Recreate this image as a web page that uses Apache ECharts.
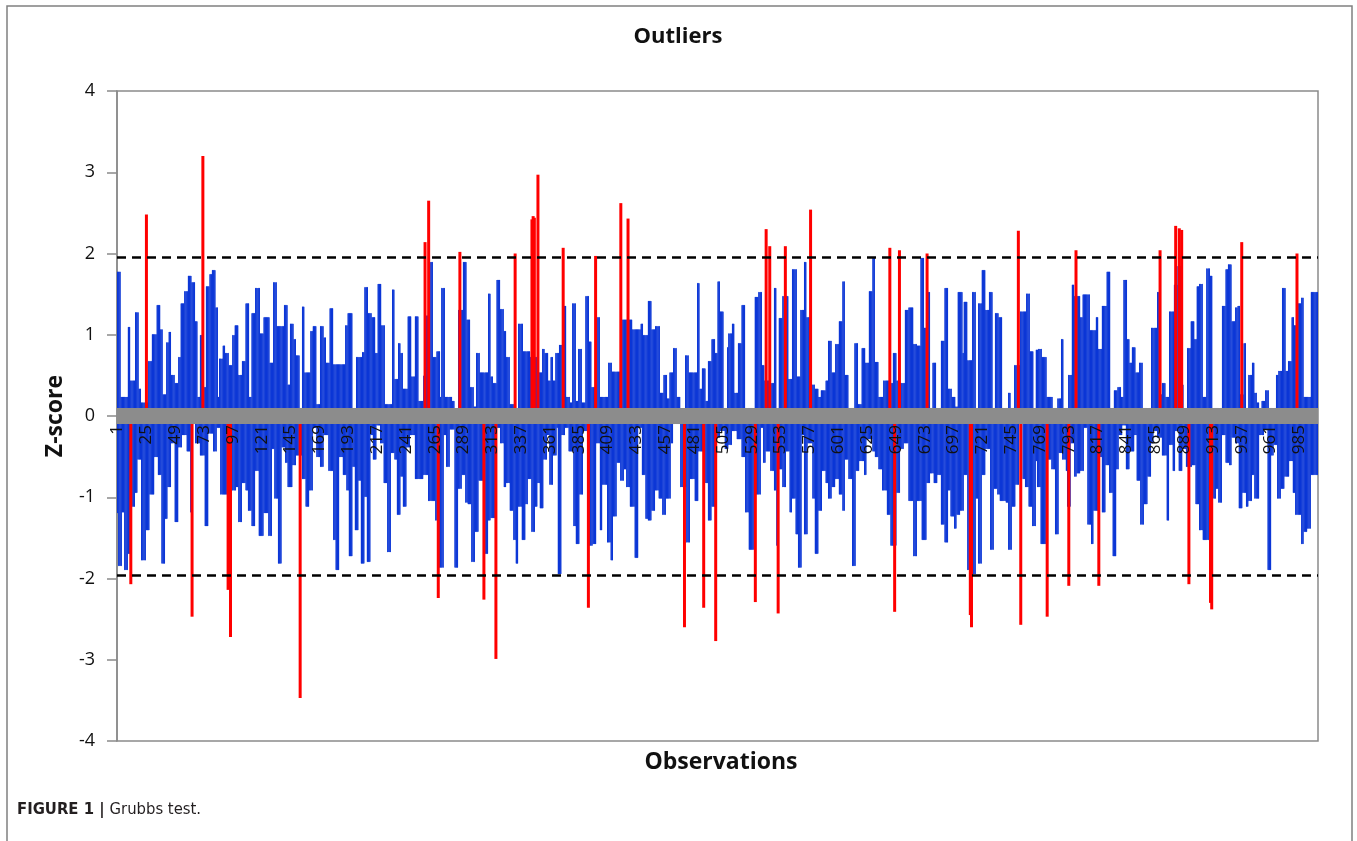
<!DOCTYPE html>
<html>
<head>
<meta charset="utf-8">
<script src="https://cdn.jsdelivr.net/npm/echarts@6/dist/echarts.min.js"></script>
<style>
html,body{margin:0;padding:0;background:#fff;}
#chart{width:1357px;height:841px;}
</style>
</head>
<body>
<div id="chart"></div>
<script>
// ---- data ----
const N_OBS = 1000;
const tickEvery = 24; // x labels 1, 25, 49, ... 985
const yTicks = [-4, -3, -2, -1, 0, 1, 2, 3, 4];
const criticalZ = 1.96;

// Blue bars above zero: [first observation of a step, z-score]
const upperSteps = [[1,1.78],[4,0.24],[10,1.1],[12,0.44],[16,1.28],[19,0.34],[21,0.17],[27,0.68],[30,1.01],[34,1.37],[37,1.07],[39,0.27],[42,0.91],[44,1.04],[46,0.51],[49,0.41],[52,0.73],[54,1.39],[57,1.54],[60,1.73],[63,1.65],[66,1.17],[68,0.24],[70,1.0],[73,0.36],[75,1.6],[78,1.75],[80,1.8],[83,1.34],[85,0.24],[86,0.71],[89,0.87],[91,0.78],[94,0.63],[97,1.0],[99,1.12],[102,0.51],[105,0.68],[108,1.39],[111,0.24],[113,1.27],[116,1.58],[120,1.02],[123,1.22],[128,0.66],[131,1.65],[134,1.11],[140,1.37],[143,0.39],[145,1.14],[148,0.95],[150,0.75],[153,0.1],[155,1.35],[157,0.54],[162,1.05],[164,1.11],[167,0.15],[170,1.11],[173,0.97],[175,0.66],[178,1.33],[181,0.64],[191,1.12],[193,1.27],[197,0.1],[200,0.73],[205,0.79],[207,1.59],[210,1.27],[213,1.22],[216,0.78],[218,1.63],[221,1.12],[224,0.15],[230,1.56],[232,0.46],[235,0.9],[237,0.78],[239,0.34],[243,1.23],[246,0.49],[249,1.23],[252,0.19],[256,0.5],[258,1.24],[261,1.9],[264,0.73],[267,0.8],[270,0.24],[271,1.58],[274,0.24],[280,0.19],[282,0.05],[285,1.31],[289,1.9],[292,1.19],[295,0.36],[298,0.12],[300,0.78],[303,0.54],[310,1.51],[312,0.49],[314,0.41],[317,1.68],[320,1.32],[323,1.05],[325,0.73],[328,0.15],[333,0.1],[335,1.14],[339,0.8],[345,0.73],[352,0.54],[355,0.83],[357,0.78],[360,0.44],[362,0.73],[364,0.44],[366,0.78],[369,0.88],[373,1.36],[375,0.24],[378,0.17],[380,1.39],[383,0.19],[385,0.83],[388,0.17],[391,1.48],[394,0.92],[396,0.36],[400,1.22],[403,0.24],[410,0.66],[413,0.55],[421,1.19],[430,1.07],[437,1.14],[439,1.0],[443,1.42],[446,1.07],[449,1.11],[453,0.29],[456,0.51],[459,0.22],[461,0.54],[464,0.84],[467,0.24],[470,0],[474,0.75],[477,0.54],[484,1.64],[486,0.34],[488,0.59],[491,0.19],[493,0.68],[496,0.95],[499,0.78],[501,1.66],[503,1.29],[506,0.1],[509,0.85],[510,1.02],[513,1.14],[515,0.29],[518,0.9],[521,1.37],[524,0.1],[532,1.47],[535,1.53],[538,0.63],[540,0.44],[545,0.41],[548,1.58],[550,0.1],[552,1.21],[555,1.48],[560,0.46],[563,1.81],[567,0.49],[570,1.31],[573,1.9],[575,1.22],[579,0.39],[582,0.34],[585,0.24],[587,0.32],[591,0.44],[593,0.93],[596,0.54],[599,0.89],[602,1.17],[605,1.66],[607,0.51],[610,0.1],[615,0.9],[618,0.15],[621,0.84],[624,0.66],[627,1.54],[630,1.95],[632,0.67],[635,0.24],[639,0.44],[644,0.41],[647,0.78],[650,0.44],[653,0.41],[657,1.31],[660,1.34],[664,0.89],[667,0.87],[670,1.95],[673,1.09],[675,1.53],[678,0.1],[680,0.66],[683,0.1],[687,0.93],[690,1.58],[693,0.34],[696,0.24],[699,0.12],[701,1.53],[705,0.78],[706,1.41],[709,0.69],[713,1.53],[716,0.1],[718,1.39],[721,1.8],[724,1.31],[727,1.53],[730,0.1],[732,1.27],[735,1.22],[738,0.1],[743,0.29],[745,0.1],[748,0.63],[753,1.29],[758,1.51],[761,0.8],[764,0.1],[766,0.82],[768,0.83],[771,0.73],[775,0.24],[780,0.1],[784,0.22],[787,0.95],[789,0.1],[793,0.51],[796,1.62],[798,1.48],[803,1.22],[805,1.5],[811,1.06],[816,1.22],[818,0.83],[821,1.36],[825,1.78],[828,0.1],[831,0.32],[834,0.36],[837,0.24],[839,1.68],[842,0.95],[844,0.66],[846,0.85],[849,0.54],[852,0.66],[855,0.1],[862,1.09],[867,1.53],[869,0.27],[871,0.41],[874,0.24],[877,1.29],[881,1.62],[884,1.85],[887,0.39],[889,0.1],[892,0.84],[895,1.17],[898,0.95],[900,1.6],[902,1.63],[905,0.24],[908,1.82],[911,1.73],[913,0.1],[921,1.36],[924,1.81],[926,1.87],[929,1.17],[932,1.34],[934,1.36],[936,0.27],[939,0.9],[941,0.1],[943,0.51],[946,0.66],[948,0.29],[950,0.17],[952,0.1],[954,0.19],[957,0.32],[960,0.1],[966,0.51],[968,0.56],[971,1.58],[974,0.56],[976,0.68],[979,1.22],[981,1.12],[984,1.39],[987,1.46],[989,0.24],[995,1.53]];

// Blue bars below zero: [first observation of a step, z-score]
const lowerSteps = [[1,-1.2],[2,-1.85],[5,-1.19],[7,-1.9],[10,-1.7],[12,-0.66],[13,-1.12],[16,-0.95],[18,-0.54],[21,-1.78],[25,-1.41],[28,-0.97],[32,-0.51],[35,-0.73],[38,-1.82],[41,-1.27],[43,-0.88],[46,-0.34],[49,-1.31],[52,-0.39],[55,-0.24],[59,-0.44],[62,-1.19],[64,-0.1],[66,-0.34],[70,-0.49],[74,-1.36],[77,-0.22],[81,-0.44],[84,-0.15],[87,-0.97],[96,-0.92],[100,-0.88],[102,-1.31],[105,-0.83],[108,-0.92],[110,-1.17],[113,-1.36],[116,-0.68],[119,-1.48],[123,-1.2],[127,-1.48],[130,-0.41],[132,-1.02],[135,-1.82],[138,-0.39],[141,-0.58],[143,-0.88],[147,-0.61],[150,-0.49],[155,-0.78],[158,-1.12],[161,-0.92],[164,-0.15],[167,-0.51],[170,-0.63],[173,-0.24],[177,-0.68],[181,-1.53],[183,-1.9],[186,-0.51],[189,-0.73],[192,-0.92],[194,-1.73],[197,-0.63],[199,-1.41],[202,-0.8],[204,-1.82],[207,-1.0],[209,-1.8],[212,-0.24],[214,-0.54],[217,-0.12],[220,-0.34],[223,-0.83],[226,-1.68],[229,-0.46],[232,-0.54],[234,-1.22],[237,-0.75],[239,-1.12],[242,-0.39],[245,-0.24],[249,-0.78],[256,-0.73],[260,-1.05],[266,-1.29],[269,-1.87],[273,-0.24],[275,-0.63],[278,-0.17],[282,-1.87],[285,-0.9],[288,-0.73],[291,-1.07],[293,-1.09],[296,-1.8],[299,-1.43],[302,-0.8],[307,-1.7],[310,-1.29],[312,-1.26],[317,-0.15],[320,-0.34],[323,-0.88],[325,-0.83],[328,-1.17],[331,-1.53],[333,-1.82],[335,-1.12],[338,-1.53],[341,-1.09],[343,-0.78],[346,-1.43],[349,-1.12],[351,-0.83],[353,-1.14],[356,-0.54],[359,-0.24],[361,-0.85],[364,-0.49],[367,-0.15],[368,-1.95],[371,-0.24],[374,-0.15],[377,-0.44],[381,-1.36],[383,-1.58],[386,-0.97],[389,-0.19],[394,-1.6],[397,-1.58],[400,-0.34],[403,-1.41],[405,-0.85],[409,-1.56],[412,-1.78],[414,-1.24],[417,-0.58],[420,-0.8],[423,-0.66],[425,-0.88],[428,-1.12],[432,-1.75],[435,-0.15],[438,-0.73],[441,-1.27],[443,-1.29],[446,-1.17],[449,-0.92],[452,-1.02],[455,-1.22],[458,-1.02],[462,-0.34],[464,-0.1],[470,-0.88],[475,-1.56],[478,-0.78],[482,-1.05],[485,-0.44],[490,-0.83],[493,-1.29],[496,-1.12],[500,-0.27],[503,-0.19],[507,-0.41],[510,-0.36],[513,-0.19],[517,-0.29],[521,-0.51],[524,-1.19],[527,-1.65],[532,-0.97],[537,-0.15],[539,-0.58],[541,-0.44],[545,-0.68],[548,-0.92],[550,-1.6],[552,-0.66],[555,-0.88],[558,-0.44],[561,-1.19],[563,-1.02],[566,-1.46],[568,-1.87],[571,-0.24],[573,-1.46],[576,-0.34],[580,-1.02],[582,-1.7],[585,-1.17],[588,-0.68],[591,-0.83],[593,-1.02],[596,-0.88],[599,-0.78],[602,-0.97],[605,-1.17],[607,-0.54],[610,-0.78],[613,-1.85],[616,-0.68],[619,-0.56],[623,-0.73],[625,-0.29],[630,-0.44],[632,-0.51],[635,-0.66],[638,-0.92],[642,-1.22],[645,-1.6],[650,-0.95],[653,-0.41],[656,-0.34],[660,-1.05],[664,-1.73],[667,-1.05],[671,-1.53],[675,-0.83],[678,-0.71],[681,-0.83],[684,-0.73],[687,-1.34],[690,-1.56],[693,-0.92],[695,-1.24],[698,-1.39],[700,-1.22],[703,-1.17],[706,-0.73],[709,-1.9],[713,-1.95],[716,-1.02],[718,-1.82],[721,-0.73],[724,-0.41],[728,-1.65],[731,-0.9],[734,-0.97],[736,-1.05],[741,-1.07],[743,-1.65],[746,-1.12],[749,-0.85],[752,-0.1],[755,-0.78],[757,-0.88],[760,-1.12],[763,-1.36],[766,-0.56],[767,-0.88],[770,-1.58],[775,-0.54],[779,-0.66],[782,-1.46],[785,-0.46],[788,-0.54],[791,-0.68],[792,-1.12],[795,-0.34],[798,-0.75],[800,-0.71],[803,-0.68],[806,-0.15],[809,-1.34],[812,-1.58],[814,-1.17],[819,-0.51],[821,-1.19],[824,-0.61],[827,-0.95],[830,-1.73],[833,-0.66],[835,-0.24],[838,-0.12],[841,-0.66],[844,-0.44],[848,-0.24],[850,-0.8],[853,-1.34],[856,-1.09],[859,-0.75],[862,-0.34],[864,-0.19],[867,-0.27],[871,-0.49],[875,-1.29],[877,-0.36],[880,-0.68],[882,-0.19],[885,-0.68],[888,-0.41],[891,-0.63],[896,-0.61],[899,-1.09],[902,-1.41],[905,-1.53],[912,-1.02],[916,-0.9],[918,-1.07],[921,-0.24],[924,-0.58],[927,-0.61],[929,-0.27],[932,-0.34],[935,-1.14],[938,-0.95],[941,-1.12],[943,-1.05],[946,-0.73],[948,-1.02],[952,-0.24],[956,-0.17],[959,-1.9],[962,-0.49],[964,-0.36],[967,-1.02],[970,-0.9],[973,-0.75],[977,-0.56],[980,-0.95],[982,-1.22],[987,-1.58],[989,-1.43],[992,-1.39],[995,-0.73]];

// Red outliers (Grubbs test)
const outlierObs = [12,25,63,72,93,95,153,257,260,268,286,306,316,332,346,347,348,351,372,393,399,420,426,473,489,499,532,541,544,551,557,578,644,648,652,675,711,712,751,753,775,793,799,818,869,882,885,887,893,911,912,937,983];
const outlierZ   = [-2.07,2.48,-2.47,3.2,-2.14,-2.72,-3.47,2.14,2.65,-2.24,2.02,-2.26,-2.99,2.0,2.42,2.46,2.44,2.97,2.07,-2.36,1.97,2.62,2.43,-2.6,-2.36,-2.77,-2.29,2.3,2.09,-2.43,2.09,2.54,2.07,-2.41,2.04,2.0,-2.45,-2.6,2.28,-2.57,-2.47,-2.09,2.04,-2.09,2.04,2.34,2.31,2.29,-2.07,-2.3,-2.38,2.14,2.0];

// ---- build tables for the library ----
const categories = [];
for (let i = 1; i <= N_OBS; i++) categories.push(String(i));

function expandSteps(steps) {
  const out = [];
  let k = 0;
  for (let i = 1; i <= N_OBS; i++) {
    while (k + 1 < steps.length && steps[k + 1][0] <= i) k++;
    out.push(steps[k][1]);
  }
  return out;
}
const upperValues = expandSteps(upperSteps);
const lowerValues = expandSteps(lowerSteps);
const outlierValues = categories.map(() => '-');
outlierObs.forEach((o, j) => { outlierValues[o - 1] = outlierZ[j]; });

const BLUE = '#0b36d6';
const RED = '#ff0000';
const GRAYLINE = '#8a8a8a';
const FONT = "'Open Sans', 'Noto Sans', sans-serif";
const CAPFONT = "'Liberation Sans Narrow', 'DejaVu Sans Condensed', 'Liberation Sans', sans-serif";

const GRID = {left: 117, right: 39, top: 91, bottom: 100};
const plotHeight = 841 - GRID.top - GRID.bottom;
// x axis drawn at z = 0: shift from the bottom edge by the scale's position of zero
const zeroOffset = -plotHeight * (0 - yTicks[0]) / (yTicks[yTicks.length - 1] - yTicks[0]);

const chart = echarts.init(document.getElementById('chart'), null, {renderer: 'canvas'});
chart.setOption({
  animation: false,
  backgroundColor: '#ffffff',
  graphic: [{
    type: 'rect', z: -1, silent: true,
    shape: {x: 7, y: 6, width: 1345, height: 860},
    style: {fill: 'none', stroke: '#808080', lineWidth: 1.5}
  }],
  title: [
    {text: 'Outliers', left: 673, textAlign: 'center', top: 21,
     textStyle: {fontFamily: FONT, fontSize: 22, fontWeight: 'bold', color: '#111'}},
    {text: 'Observations', left: 716, textAlign: 'center', top: 746,
     textStyle: {fontFamily: FONT, fontSize: 23, fontWeight: 'bold', color: '#111'}},
    {text: '{b|FIGURE 1 |} {r|Grubbs test.}', left: 12, top: 796,
     textStyle: {fontWeight: 'normal', rich: {
       b: {fontFamily: CAPFONT, fontSize: 16.5, fontWeight: 'bold', color: '#231f20'},
       r: {fontFamily: CAPFONT, fontSize: 16.5, fontWeight: 'normal', color: '#231f20'}
     }}}
  ],
  grid: {left: GRID.left, right: GRID.right, top: GRID.top, bottom: GRID.bottom, show: true,
         borderColor: GRAYLINE, borderWidth: 1.5, backgroundColor: 'transparent'},
  xAxis: [{
    type: 'category', data: categories, z: 10, position: 'bottom', offset: zeroOffset,
    axisLine: {onZero: false, lineStyle: {color: '#8c8c8c', width: 16, cap: 'butt'}},
    axisTick: {show: false},
    splitLine: {show: false},
    axisLabel: {interval: tickEvery - 1, rotate: 90, margin: 9, fontSize: 17,
                fontFamily: FONT, color: '#111'}
  }, {
    type: 'category', data: categories, show: false
  }],
  yAxis: {
    type: 'value', min: yTicks[0], max: yTicks[yTicks.length - 1], interval: 1,
    name: 'Z-score', nameLocation: 'middle', nameRotate: 90, nameGap: 50,
    nameTextStyle: {fontFamily: FONT, fontSize: 23, fontWeight: 'bold', color: '#111'},
    axisLine: {show: true, onZero: false, lineStyle: {color: GRAYLINE, width: 1.5}},
    axisTick: {show: true, length: 10, lineStyle: {color: GRAYLINE, width: 1.5}},
    splitLine: {show: false},
    axisLabel: {fontSize: 18, fontFamily: FONT, color: '#111', margin: 22}
  },
  series: [{
    name: 'above', type: 'bar', stack: 'z', data: upperValues,
    barCategoryGap: '0%', silent: true, z: 2,
    itemStyle: {color: BLUE, borderColor: BLUE, borderWidth: 1}
  }, {
    name: 'below', type: 'bar', stack: 'z', data: lowerValues,
    barCategoryGap: '0%', silent: true, z: 2,
    itemStyle: {color: BLUE, borderColor: BLUE, borderWidth: 1}
  }, {
    name: 'outliers', type: 'bar', xAxisIndex: 1, data: outlierValues,
    barWidth: 3, silent: true, z: 3,
    itemStyle: {color: RED},
    markLine: {
      silent: true, symbol: ['none', 'none'], label: {show: false},
      lineStyle: {color: '#000', type: [9, 6], width: 2.5},
      data: [{yAxis: criticalZ}, {yAxis: -criticalZ}]
    }
  }]
});
</script>
</body>
</html>
